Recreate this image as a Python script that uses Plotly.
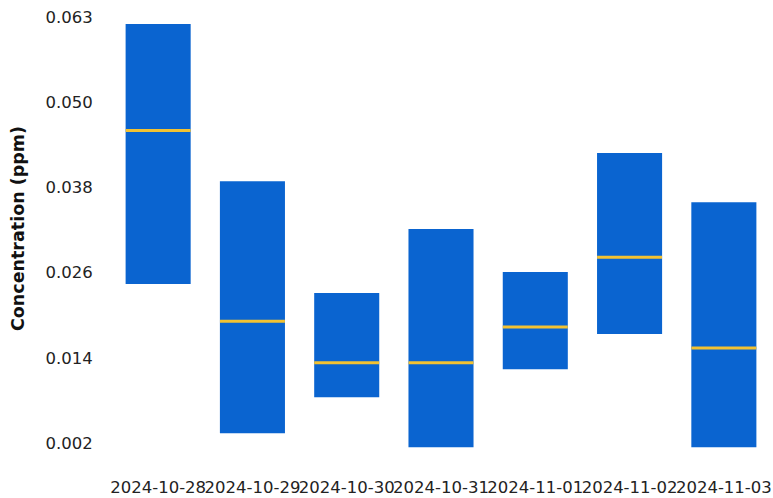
import plotly.graph_objects as go

dates = ["2024-10-28", "2024-10-29", "2024-10-30", "2024-10-31",
         "2024-11-01", "2024-11-02", "2024-11-03"]
low = [0.0246, 0.0034, 0.0085, 0.0014, 0.0125, 0.0175, 0.0014]
high = [0.0615, 0.0392, 0.0233, 0.0324, 0.0263, 0.0432, 0.0362]
median = [0.0464, 0.0193, 0.0134, 0.0134, 0.0185, 0.0284, 0.0155]

tick_vals = [0.002, 0.0141, 0.0262, 0.0383, 0.0504, 0.0625]
tick_text = ["0.002", "0.014", "0.026", "0.038", "0.050", "0.063"]

BLUE = "#0a64d0"
GOLD = "#f2c232"

fig = go.Figure()
fig.add_trace(go.Bar(
    x=dates,
    y=[h - l for h, l in zip(high, low)],
    base=low,
    marker=dict(color=BLUE, line=dict(width=0)),
    showlegend=False,
    hoverinfo="skip",
))
fig.add_trace(go.Scatter(
    x=dates,
    y=median,
    mode="markers",
    marker=dict(symbol="line-ew", size=46.4, line=dict(color=GOLD, width=3)),
    showlegend=False,
))

fig.update_layout(
    width=773, height=498,
    margin=dict(l=111, r=2, t=10, b=38),
    paper_bgcolor="white", plot_bgcolor="white",
    bargap=0.31,
    font=dict(family="DejaVu Sans", size=16, color="#222"),
    xaxis=dict(
        type="category", automargin=False,
        range=[-0.5, len(dates) - 0.5],
        showgrid=False, zeroline=False, showline=False,
        ticks="outside", ticklen=12, tickcolor="rgba(0,0,0,0)",
        tickfont=dict(family="DejaVu Sans", size=16.5, color="#222"),
        tickangle=0, ticklabeloverflow="allow",
    ),
    yaxis=dict(
        range=[-0.0004, 0.0635], automargin=False,
        tickmode="array", tickvals=tick_vals, ticktext=tick_text,
        showgrid=False, zeroline=False, showline=False,
        ticks="outside", ticklen=14, tickcolor="rgba(0,0,0,0)",
        tickfont=dict(family="DejaVu Sans", size=16.5, color="#222"),
        ticklabeloverflow="allow",
    ),
    annotations=[dict(
        text="<b>Concentration (ppm)</b>",
        xref="paper", yref="paper", x=-0.1409, y=0.5133,
        xanchor="center", yanchor="middle", textangle=-90,
        showarrow=False,
        font=dict(family="DejaVu Sans", size=17.5, color="#111"),
    )],
)

fig.write_html(
    "out.html",
    config={"displayModeBar": False},
    post_script="document.body.style.margin='0';document.body.style.overflow='hidden';",
)
